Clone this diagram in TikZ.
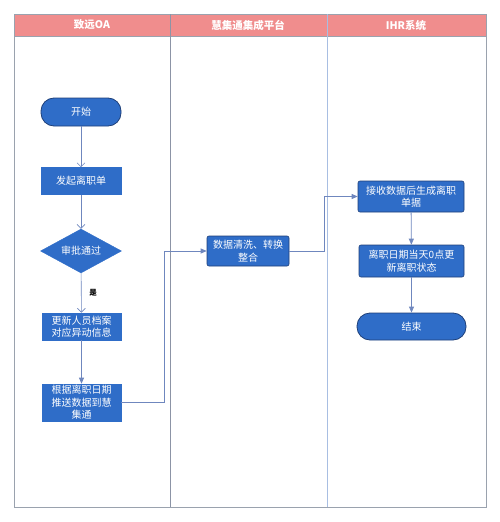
\documentclass[tikz,border=0pt]{standalone}
\usepackage{fontspec}
\setmainfont{Noto Sans CJK SC}
\usetikzlibrary{shapes.geometric,arrows.meta}
\definecolor{headpink}{HTML}{F08D8D}
\definecolor{boxblue}{HTML}{2F6DC8}
\definecolor{boxedge}{HTML}{1E3F78}
\definecolor{linkc}{HTML}{6F87BE}
\definecolor{framec}{HTML}{9AA2AE}
\definecolor{lanec}{HTML}{8C94A6}
\definecolor{lanelb}{HTML}{A8BEE2}
\tikzset{
  base/.style={fill=boxblue, text=white, inner sep=1pt, align=center,
    font=\fontsize{10}{12.5}\selectfont},
  proc/.style={base, rectangle, draw=boxblue, line width=0.6pt},
  procb/.style={base, rectangle, draw=boxedge, line width=0.6pt, rounded corners=2pt},
  term/.style={base, rectangle, draw=boxedge, line width=0.8pt, rounded corners=13pt},
  decision/.style={base, diamond, draw=boxblue, inner sep=0pt, aspect=1.8},
  openlink/.style={draw=linkc, line width=0.6pt, -{Straight Barb[length=4pt,width=8pt]}},
  filllink/.style={draw=linkc, line width=0.8pt, -{Triangle[length=6pt,width=5pt]}},
  headtext/.style={text=white, font=\fontsize{10.5}{12}\selectfont\bfseries}
}
\begin{document}
\begin{tikzpicture}[x=1pt,y=-1pt]
\useasboundingbox (0,0) rectangle (500,522);
% header and frame
\fill[headpink] (14,14) rectangle (486,36);
\draw[framec, line width=0.7pt] (14,14) rectangle (486,507);
\draw[framec, line width=0.7pt] (14,36) -- (486,36);
\draw[lanec, line width=0.7pt] (170,14) -- (170,507);
\draw[lanelb, line width=0.9pt] (327,14) -- (327,507);
\node[headtext] (h1) at (92,25) {致远OA};
\node[headtext] (h2) at (248,25) {慧集通集成平台};
\node[headtext] (h3) at (406,25) {IHR系统};
% nodes
\node[term, minimum width=80pt, minimum height=28pt] (start) at (81,112) {开始};
\node[proc, minimum width=80pt, minimum height=27pt] (n1) at (81,181) {发起离职单};
\node[decision, minimum width=81pt, minimum height=44pt] (dec) at (81,251) {审批通过};
\node[proc, minimum width=79pt, minimum height=27pt] (n2) at (81.5,326.5) {更新人员档案\\对应异动信息};
\node[proc, minimum width=79pt, minimum height=37pt] (n3) at (81.5,402.5) {根据离职日期\\推送数据到慧\\集通};
\node[procb, minimum width=82pt, minimum height=30pt] (m1) at (248,251) {数据清洗、转换\\整合};
\node[procb, minimum width=106pt, minimum height=31pt] (r1) at (411,196.5) {接收数据后生成离职\\单据};
\node[procb, minimum width=105pt, minimum height=32pt] (r2) at (411.5,261) {离职日期当天0点更\\新离职状态};
\node[term, minimum width=109pt, minimum height=27pt] (endn) at (411.5,326.5) {结束};
\node[text=black, font=\fontsize{7.5}{9}\selectfont\bfseries] (yes) at (93,293) {是};
% connectors
\coordinate (k1) at (164,402.5);
\coordinate (k2) at (324,251);
\draw[openlink] (start) -- (n1);
\draw[openlink] (n1) -- (dec);
\draw[openlink] (dec) -- (n2);
\draw[filllink] (n2) -- (n3);
\draw[filllink] (n3.east) -- (k1) |- (m1.west);
\draw[filllink] (m1.east) -- (k2) |- (r1.west);
\draw[filllink] (r1) -- (r2);
\draw[filllink] (r2) -- (endn);
\end{tikzpicture}
\end{document}
